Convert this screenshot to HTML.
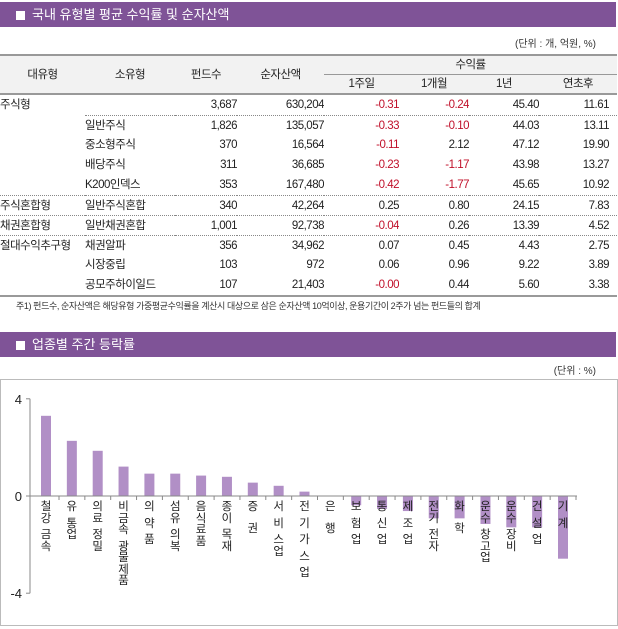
<!DOCTYPE html>
<html><head><meta charset="utf-8">
<style>
body{margin:0;width:618px;height:629px;background:#fff;font-family:"Liberation Sans","Noto Sans CJK KR",sans-serif;color:#222;position:relative;overflow:hidden}
.bar{position:absolute;left:0;width:616px;height:25px;background:#7f5397;color:#fff;font-size:13px;line-height:25px}
.bar span.sq{display:inline-block;width:9px;height:9px;background:#fff;margin:0 7px 0 16px;vertical-align:-1px}
.unit{position:absolute;right:22px;font-size:10px;color:#333}
table{position:absolute;left:0;top:54px;width:617px;border-collapse:collapse;font-size:11.5px;letter-spacing:-0.5px;table-layout:fixed}
td,th{padding:0;height:20px;line-height:18px;font-weight:normal;white-space:nowrap;overflow:hidden}
.dot td{height:19px}
th{background:#f2f2f2;text-align:center;height:18px}
.n{text-align:right}
.r{color:#c0102a}
.dot td{border-top:1px dotted #888}
.foot{position:absolute;left:16px;top:299px;font-size:9px;color:#333;letter-spacing:-0.4px}
#chart{position:absolute;left:0;top:379px;width:616px;height:245px;border:1px solid #bbb}
.lab{position:absolute;top:502px;width:14px;font-size:11.5px;color:#222;text-align:center}
.lab div{height:11.5px;line-height:11.5px}
.lab div.sp{height:5px}
</style></head><body>
<div class="bar" style="top:2px"><span class="sq"></span>국내 유형별 평균 수익률 및 순자산액</div>
<div class="unit" style="top:35px">(단위 : 개, 억원, %)</div>
<table>
<colgroup><col style="width:85px"><col style="width:90px"><col style="width:62px"><col style="width:87px"><col style="width:75px"><col style="width:70px"><col style="width:70px"><col style="width:78px"></colgroup>
<tr style="border-top:2px solid #999"><th rowspan="2" style="border-bottom:2px solid #999">대유형</th><th rowspan="2" style="border-bottom:2px solid #999">소유형</th><th rowspan="2" style="border-bottom:2px solid #999">펀드수</th><th rowspan="2" style="border-bottom:2px solid #999">순자산액</th><th colspan="4" style="border-bottom:1px solid #999">수익률</th></tr>
<tr style="border-bottom:2px solid #999"><th>1주일</th><th>1개월</th><th>1년</th><th>연초후</th></tr>
<tr><td>주식형</td><td></td><td class="n">3,687</td><td class="n">630,204</td><td class="n r">-0.31</td><td class="n r">-0.24</td><td class="n">45.40</td><td class="n" style="padding-right:8px">11.61</td></tr>
<tr class="dot"><td style="border-top:none"></td><td>일반주식</td><td class="n">1,826</td><td class="n">135,057</td><td class="n r">-0.33</td><td class="n r">-0.10</td><td class="n">44.03</td><td class="n" style="padding-right:8px">13.11</td></tr>
<tr><td></td><td>중소형주식</td><td class="n">370</td><td class="n">16,564</td><td class="n r">-0.11</td><td class="n">2.12</td><td class="n">47.12</td><td class="n" style="padding-right:8px">19.90</td></tr>
<tr><td></td><td>배당주식</td><td class="n">311</td><td class="n">36,685</td><td class="n r">-0.23</td><td class="n r">-1.17</td><td class="n">43.98</td><td class="n" style="padding-right:8px">13.27</td></tr>
<tr><td></td><td>K200인덱스</td><td class="n">353</td><td class="n">167,480</td><td class="n r">-0.42</td><td class="n r">-1.77</td><td class="n">45.65</td><td class="n" style="padding-right:8px">10.92</td></tr>
<tr class="dot"><td>주식혼합형</td><td>일반주식혼합</td><td class="n">340</td><td class="n">42,264</td><td class="n">0.25</td><td class="n">0.80</td><td class="n">24.15</td><td class="n" style="padding-right:8px">7.83</td></tr>
<tr class="dot"><td>채권혼합형</td><td>일반채권혼합</td><td class="n">1,001</td><td class="n">92,738</td><td class="n r">-0.04</td><td class="n">0.26</td><td class="n">13.39</td><td class="n" style="padding-right:8px">4.52</td></tr>
<tr class="dot"><td>절대수익추구형</td><td>채권알파</td><td class="n">356</td><td class="n">34,962</td><td class="n">0.07</td><td class="n">0.45</td><td class="n">4.43</td><td class="n" style="padding-right:8px">2.75</td></tr>
<tr><td></td><td>시장중립</td><td class="n">103</td><td class="n">972</td><td class="n">0.06</td><td class="n">0.96</td><td class="n">9.22</td><td class="n" style="padding-right:8px">3.89</td></tr>
<tr style="border-bottom:2px solid #999"><td></td><td>공모주하이일드</td><td class="n">107</td><td class="n">21,403</td><td class="n r">-0.00</td><td class="n">0.44</td><td class="n">5.60</td><td class="n" style="padding-right:8px">3.38</td></tr>
</table>
<div class="foot">주1) 펀드수, 순자산액은 해당유형 가중평균수익률을 계산시 대상으로 삼은 순자산액 10억이상, 운용기간이 2주가 넘는 펀드들의 합계</div>
<div class="bar" style="top:332px"><span class="sq"></span>업종별 주간 등락률</div>
<div class="unit" style="top:362px">(단위 : %)</div>
<div id="chart"></div>
<svg id="svg" width="618" height="629" style="position:absolute;left:0;top:0"></svg>
<script>
const categories=["철강 금속","유 통업","의료 정밀","비금속 광물제품","의 약 품","섬유 의복","음식료품","종이 목재","증  권","서 비 스업","전 기 가 스 업","은  행","보 험 업","통 신 업","제 조 업","전기 전자","화  학","운수 창고업","운수 장비","건 설 업","기 계"];
const values=[3.30,2.27,1.86,1.21,0.92,0.92,0.84,0.79,0.55,0.42,0.18,0,-0.38,-0.53,-0.62,-0.92,-0.92,-1.15,-1.29,-1.29,-2.58];
const yTicks=[4,0,-4];
const NS="http://www.w3.org/2000/svg";
const svg=document.getElementById('svg');
const x0=30,x1=577,y0=496,k=24.3;
const y=v=>y0-v*k;
const xc=i=>46+i*25.85;
function el(t,a){const e=document.createElementNS(NS,t);for(const p in a)e.setAttribute(p,a[p]);svg.appendChild(e);return e;}
const ax=el('line',{x1:x0,y1:y(4),x2:x0,y2:y(-4),stroke:'#888'});


yTicks.forEach(t=>{
  el('line',{x1:x0-4,y1:y(t),x2:x0,y2:y(t),stroke:'#888'});
  const tx=el('text',{x:x0-8,y:y(t)+5,'text-anchor':'end','font-size':13,fill:'#222','font-family':'Liberation Sans, sans-serif'});
  tx.textContent=t;
  
  
});
categories.forEach((c,i)=>{
  const v=values[i];
  const r=el('rect',{x:xc(i)-5,y:Math.min(y(v),y0),width:10,height:Math.abs(y(v)-y0),fill:'#b18fc6'});
  
  
  el('line',{x1:xc(i)+13,y1:y0,x2:xc(i)+13,y2:y0+4,stroke:'#888'});
  const lab=document.createElement('div');
  lab.className='lab';
  lab.style.left=(xc(i)-7)+'px';
  
  
  for(const ch of c){
    const d=document.createElement('div');
    if(ch===' ')d.className='sp';else d.textContent=ch;
    lab.appendChild(d);
  }
  document.body.appendChild(lab);
});
const xa=el('line',{x1:x0,y1:y0,x2:x1,y2:y0,stroke:'#888'});


</script>
</body></html>
